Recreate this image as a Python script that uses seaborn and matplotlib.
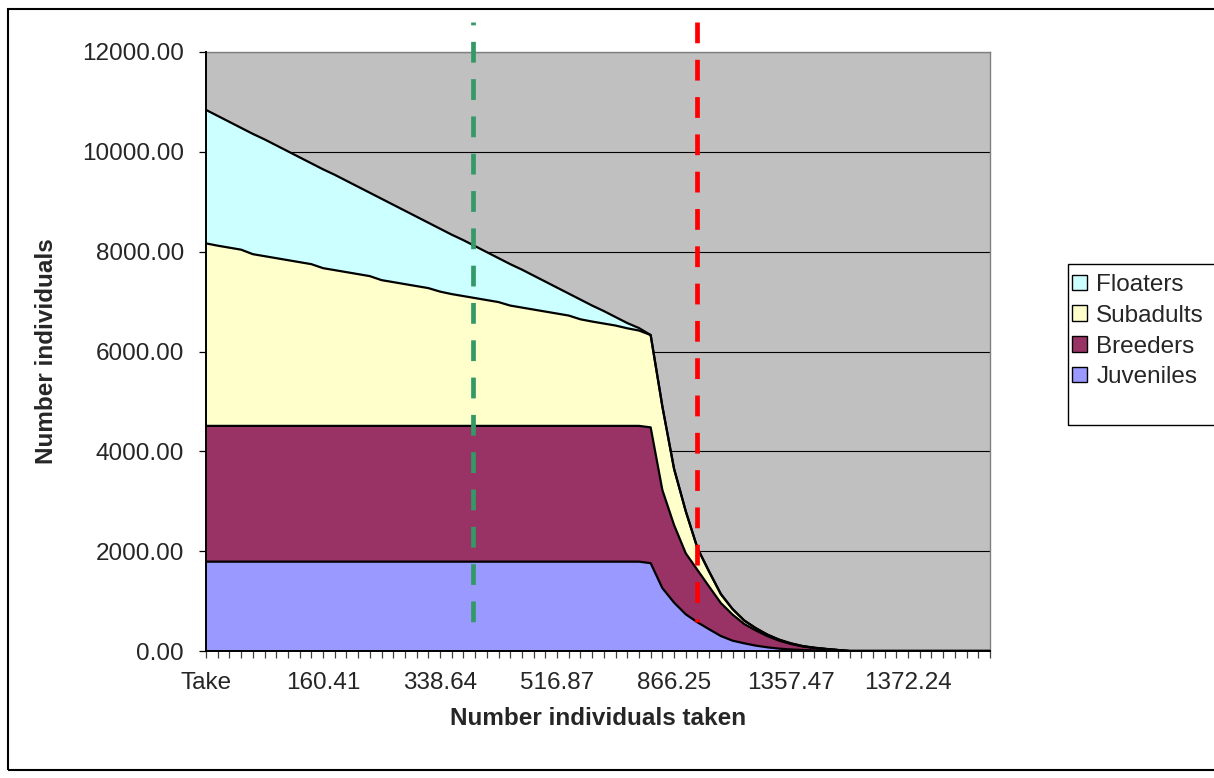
import numpy as np
import pandas as pd
import matplotlib
matplotlib.use("Agg")
import matplotlib.pyplot as plt
from matplotlib.patches import Patch, Rectangle
from matplotlib.lines import Line2D
import seaborn as sns

# Stacked population composition per harvest step
juveniles = [1790] * 38 + [1760, 1260, 970, 735, 575, 435, 300, 207, 154, 107, 73, 47, 30, 20,
                           12, 8, 4, 0] + [0] * 12
breeders = [2720] * 38 + [2720, 1965, 1554, 1222, 1048, 854, 660, 523, 386, 303, 222, 158, 110,
                          70, 48, 30, 14, 0] + [0] * 12
subadults = [3656, 3610, 3570, 3530, 3440, 3400, 3360, 3320, 3280, 3240,
             3160, 3120, 3080, 3040, 3000, 2920, 2880, 2840, 2800, 2760,
             2690, 2640, 2600, 2560, 2520, 2480, 2410, 2370, 2330, 2290,
             2250, 2210, 2135, 2090, 2050, 2010, 1955, 1910,
             1850, 1675, 1126, 843, 437, 300, 180, 110, 70, 45, 30, 20, 12, 8, 5, 3, 2, 0] + [0] * 12
floaters = [2674, 2600, 2520, 2440, 2410, 2340, 2260, 2180, 2100, 2020,
            1980, 1910, 1830, 1750, 1670, 1630, 1550, 1470, 1390, 1310,
            1260, 1190, 1120, 1040, 960, 880, 830, 760, 680, 600,
            520, 440, 395, 320, 250, 170, 105, 50] + [0] * 30

# labels shown on every 10th category
tick_labels = ["Take", "160.41", "338.64", "516.87", "866.25", "1357.47", "1372.24"]
label_every = 10
series_names = ["Juveniles", "Breeders", "Subadults", "Floaters"]
series_colors = ["#9999FF", "#993366", "#FFFFCC", "#CCFFFF"]

# reference harvest levels (category position)
green_level = 22.8
red_level = 42.0

df = pd.DataFrame({"Juveniles": juveniles, "Breeders": breeders,
                   "Subadults": subadults, "Floaters": floaters})
df["step"] = np.arange(len(df))
cum = df[series_names].cumsum(axis=1)

sns.set_style("white")
plt.rcParams["font.family"] = ["Liberation Sans", "DejaVu Sans"]
FS = 17.5

W, H = 1214, 778
fig = plt.figure(figsize=(W / 100, H / 100), dpi=100)
ax = fig.add_axes([206 / W, 1 - 651 / H, 784 / W, 599 / H])
ax.set_facecolor("#C0C0C0")

n = len(df)
x = df["step"].values
ax.stackplot(x, [df[s].values for s in series_names], colors=series_colors,
             linewidth=0, zorder=2)
long = cum.assign(step=x).melt(id_vars="step", var_name="layer", value_name="top")
sns.lineplot(data=long, x="step", y="top", units="layer", estimator=None,
             color="black", linewidth=1.6, ax=ax, zorder=3, legend=False)

ax.set_xlim(0, n - 1)
ax.set_ylim(0, 12000)
ax.set_yticks(np.arange(0, 12001, 2000))
ax.set_yticklabels([f"{v:.2f}" for v in np.arange(0, 12001, 2000)])
ax.yaxis.grid(True, color="black", linewidth=0.8, zorder=1)
ax.set_axisbelow(True)

# a tick mark on every category, a label on every 10th
cat_labels = [""] * n
for j, lab in enumerate(tick_labels):
    cat_labels[j * label_every] = lab
ax.set_xticks(x)
ax.set_xticklabels(cat_labels)
ax.tick_params(axis="x", direction="out", length=5, width=0.9, color="#404040",
               bottom=True, labelsize=FS, pad=10.4)
ax.tick_params(axis="y", direction="out", length=5, width=0.9, color="black",
               left=True, labelsize=FS, pad=11)

for side in ("top", "right"):
    ax.spines[side].set_color("#808080")
    ax.spines[side].set_linewidth(1.0)
for side in ("left", "bottom"):
    ax.spines[side].set_color("black")
    ax.spines[side].set_linewidth(1.4)
    ax.spines[side].set_zorder(4)

ax.set_xlabel("Number individuals taken", fontsize=FS, fontweight="bold", labelpad=9)
ax.set_ylabel("Number individuals", fontsize=FS, fontweight="bold", labelpad=17)

# dashed reference levels, drawn top-down and extending above the plot frame
trans = ax.get_xaxis_transform()
y_top = (651 - 22) / 599
y_bot = (651 - 622) / 599
for lvl, col, phase in ((green_level, "#339966", 3.8), (red_level, "#FF0000", 0.0)):
    ax.add_line(Line2D([lvl, lvl], [y_top, y_bot], transform=trans, color=col,
                       linewidth=3.4, linestyle=(phase, (4.4, 3.5)),
                       dash_capstyle="butt", clip_on=False, zorder=5))

handles = [Patch(facecolor=c, edgecolor="black", linewidth=1.0)
           for c in series_colors[::-1]]
leg = fig.legend(handles, series_names[::-1], loc="upper left",
                 bbox_to_anchor=(1072 / W, 1 - 274 / H), fontsize=FS,
                 frameon=False, handlelength=0.6, handleheight=0.6,
                 handletextpad=0.4, borderpad=0.0, labelspacing=0.36,
                 borderaxespad=0)
# legend frame
fig.patches.append(Rectangle((1068 / W, 1 - 425 / H), (1230 - 1068) / W, (425 - 264) / H,
                             transform=fig.transFigure, fill=False,
                             edgecolor="black", linewidth=1.0))

# chart area border (runs past the right edge)
fig.patches.append(Rectangle((8 / W, 1 - 770 / H), (1240 - 8) / W, (770 - 9) / H,
                             transform=fig.transFigure, fill=False,
                             edgecolor="black", linewidth=1.5))

fig.savefig("out.png", dpi=100)
